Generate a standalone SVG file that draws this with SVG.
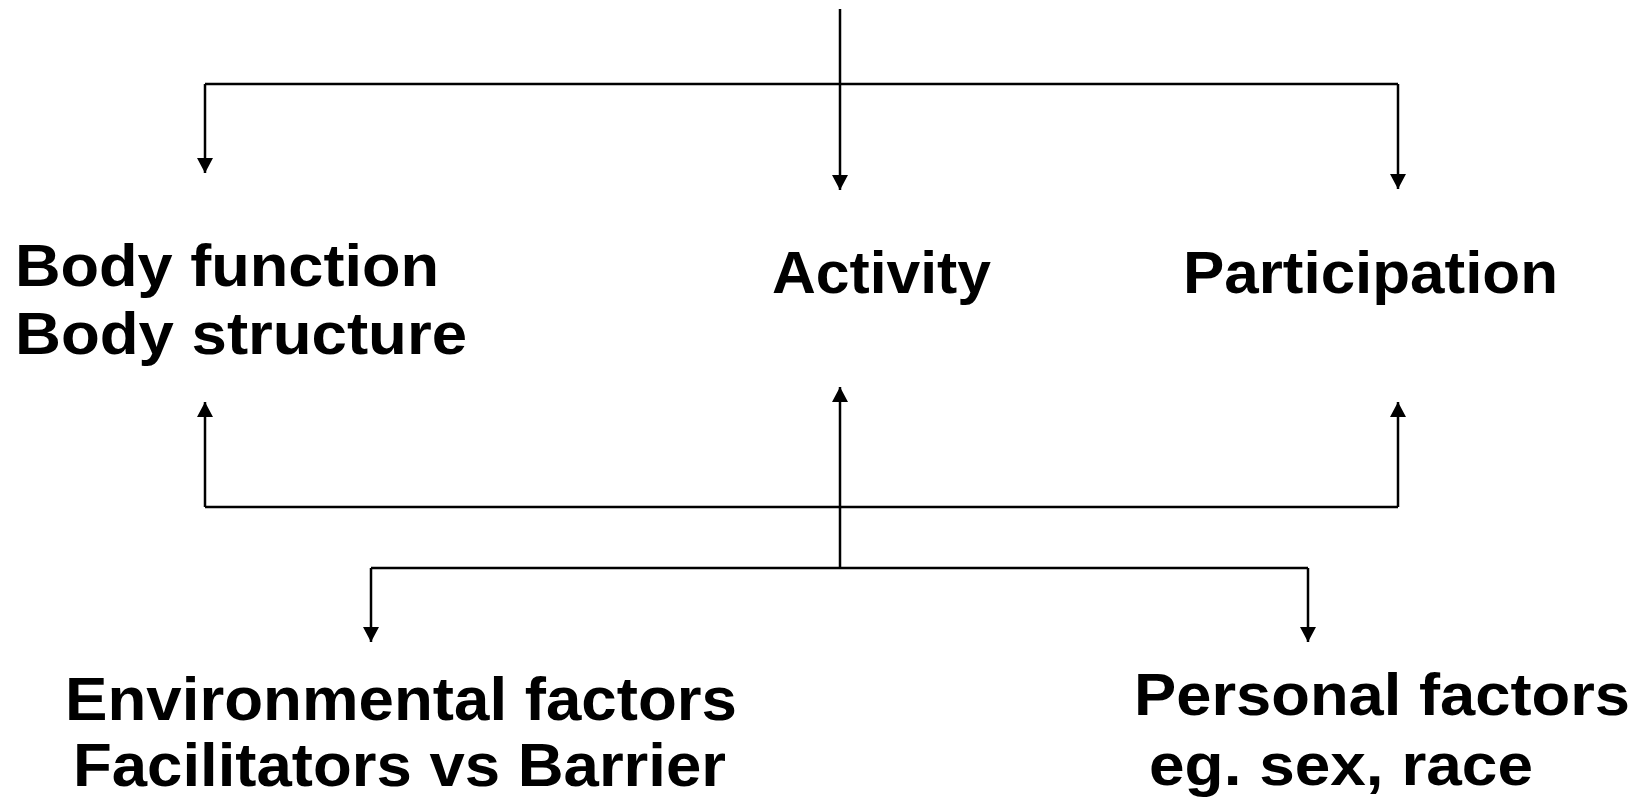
<svg xmlns="http://www.w3.org/2000/svg" width="1646" height="798" viewBox="0 0 1646 798">
<style>
.c{stroke:#000;stroke-width:2.5;fill:none}
.t{font-family:"Liberation Sans",Arial,sans-serif;font-weight:bold;fill:#000}
</style>
<defs>
<marker id="ah" markerUnits="userSpaceOnUse" markerWidth="16" markerHeight="16" viewBox="0 0 16 16" refX="15" refY="8" orient="auto">
<path d="M0,0 L15,8 L0,16 Z" fill="#000"/>
</marker>
</defs>
<rect width="1646" height="798" fill="#fff"/>
<g id="connectors">
<line class="c" x1="840" y1="9" x2="840" y2="190" marker-end="url(#ah)"/>
<line class="c" x1="205" y1="84" x2="1398" y2="84"/>
<line class="c" x1="205" y1="84" x2="205" y2="173" marker-end="url(#ah)"/>
<line class="c" x1="1398" y1="84" x2="1398" y2="189" marker-end="url(#ah)"/>
<line class="c" x1="205" y1="507" x2="1398" y2="507"/>
<line class="c" x1="205" y1="507" x2="205" y2="402" marker-end="url(#ah)"/>
<line class="c" x1="1398" y1="507" x2="1398" y2="402" marker-end="url(#ah)"/>
<line class="c" x1="840" y1="568" x2="840" y2="387" marker-end="url(#ah)"/>
<line class="c" x1="371" y1="568" x2="1308" y2="568"/>
<line class="c" x1="371" y1="568" x2="371" y2="642" marker-end="url(#ah)"/>
<line class="c" x1="1308" y1="568" x2="1308" y2="642" marker-end="url(#ah)"/>
</g>
<g id="body">
<text class="t" font-size="60" x="15" y="286" textLength="424" lengthAdjust="spacingAndGlyphs">Body function</text>
<text class="t" font-size="60" x="15" y="354" textLength="452" lengthAdjust="spacingAndGlyphs">Body structure</text>
</g>
<g id="activity">
<text class="t" font-size="60" x="772" y="293" textLength="219" lengthAdjust="spacingAndGlyphs">Activity</text>
</g>
<g id="participation">
<text class="t" font-size="60" x="1183" y="293" textLength="375" lengthAdjust="spacingAndGlyphs">Participation</text>
</g>
<g id="environmental">
<text class="t" font-size="61" x="65" y="720" textLength="672" lengthAdjust="spacingAndGlyphs">Environmental factors</text>
<text class="t" font-size="61" x="73" y="786" textLength="653" lengthAdjust="spacingAndGlyphs">Facilitators vs Barrier</text>
</g>
<g id="personal">
<text class="t" font-size="60" x="1134" y="715" textLength="496" lengthAdjust="spacingAndGlyphs">Personal factors</text>
<text class="t" font-size="60" x="1149" y="785" textLength="384" lengthAdjust="spacingAndGlyphs">eg. sex, race</text>
</g>
</svg>
